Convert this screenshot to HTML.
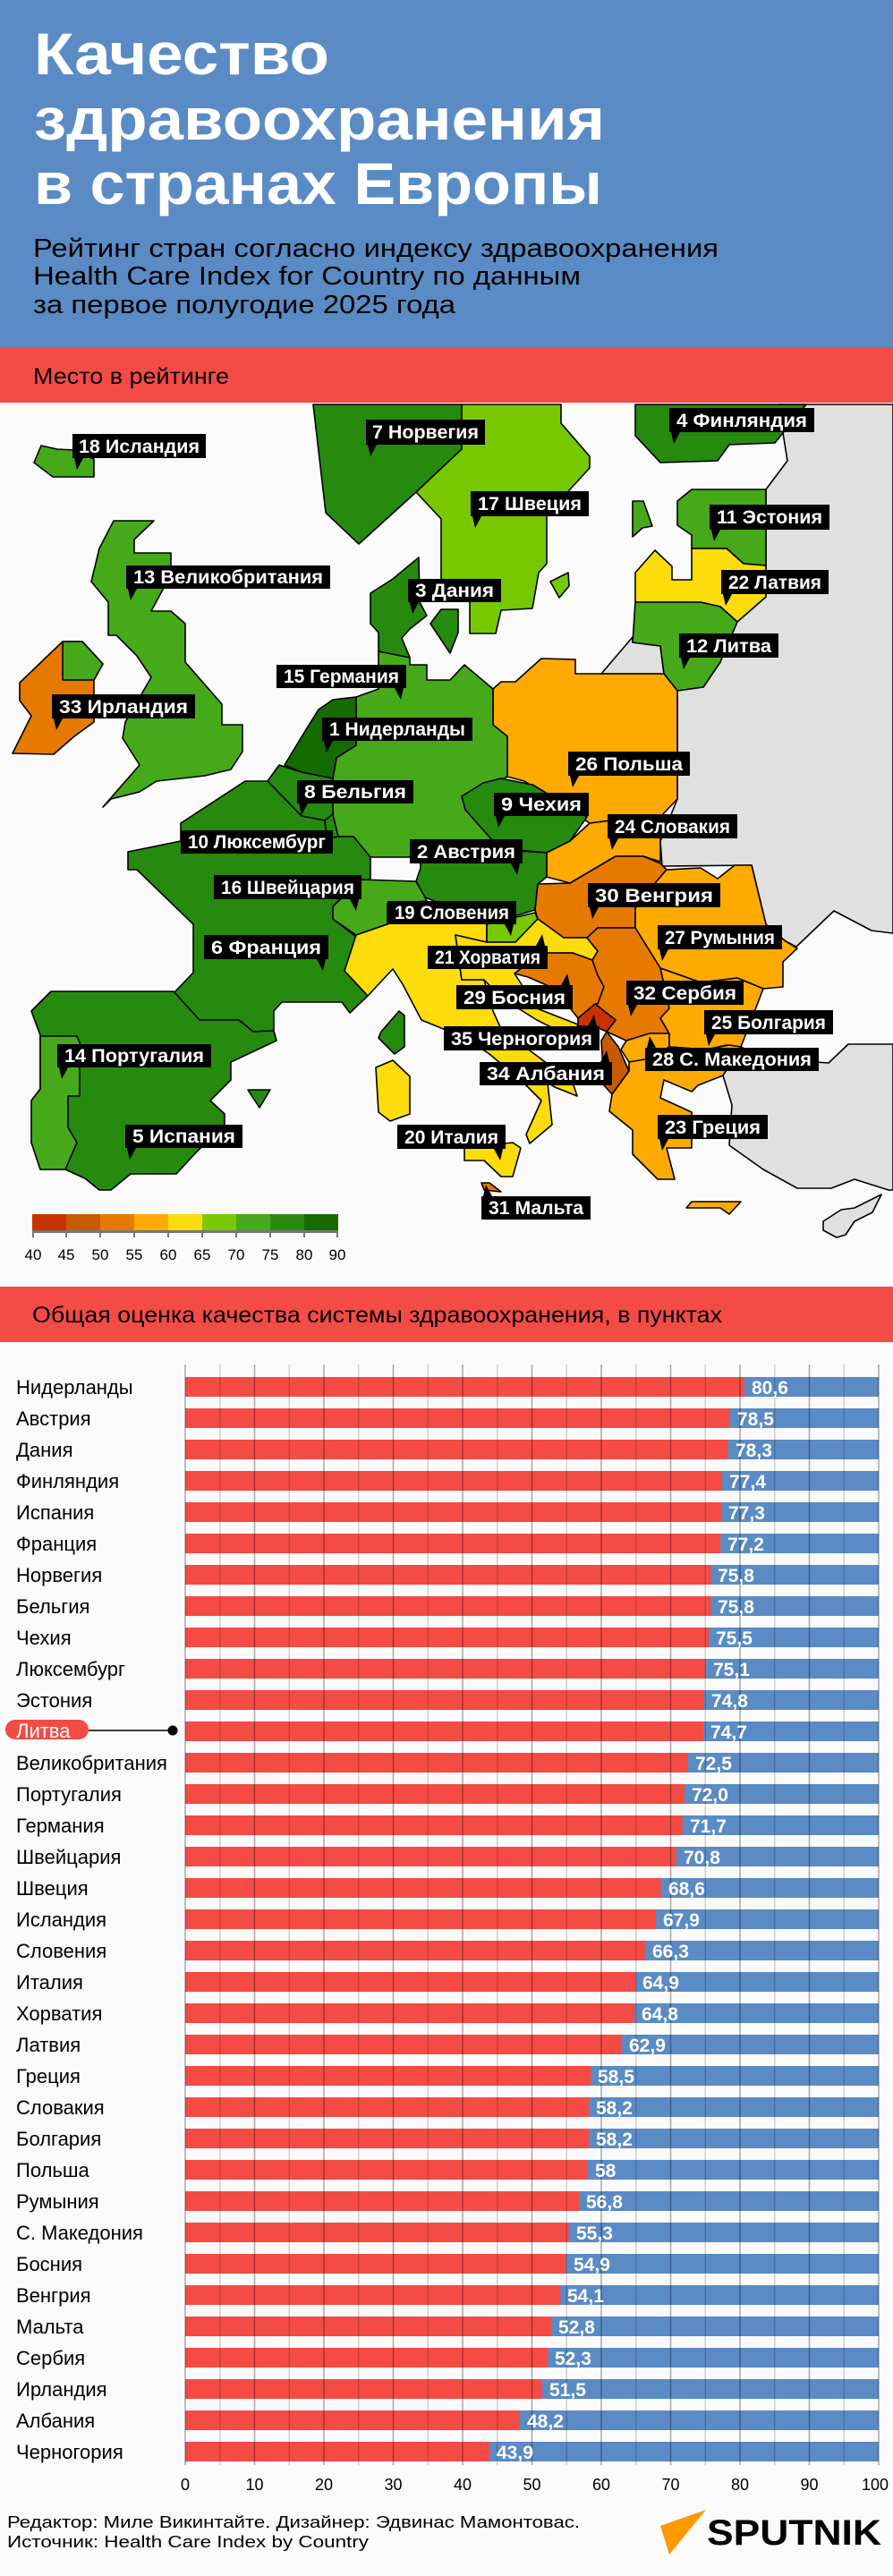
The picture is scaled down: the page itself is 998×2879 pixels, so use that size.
<!DOCTYPE html>
<html><head><meta charset="utf-8"><style>
html,body{margin:0;padding:0;background:#fafafa}
svg{display:block}
text{font-family:"Liberation Sans","DejaVu Sans",sans-serif}
.lb rect,.lb polygon{fill:#000}
.lb text{fill:#fff;font-size:21px;font-weight:bold}
.c{stroke:#000;stroke-width:1.6;stroke-linejoin:round}
.n{font-size:22px;fill:#000}
.v{font-size:21px;fill:#fff;font-weight:bold}
</style></head><body>
<svg width="998" height="2879" viewBox="0 0 998 2879" xmlns="http://www.w3.org/2000/svg">
<rect width="998" height="2879" fill="#fafafa"/>
<rect width="998" height="388" fill="#5a8bc4"/>
<g fill="#fff" font-weight="bold" font-size="66">
<text x="38" y="83" textLength="330" lengthAdjust="spacingAndGlyphs">Качество</text>
<text x="38" y="156" textLength="638" lengthAdjust="spacingAndGlyphs">здравоохранения</text>
<text x="38" y="228" textLength="635" lengthAdjust="spacingAndGlyphs">в странах Европы</text>
</g>
<g fill="#000" font-size="29">
<text x="37" y="287" textLength="766" lengthAdjust="spacingAndGlyphs">Рейтинг стран согласно индексу здравоохранения</text>
<text x="37" y="318" textLength="612" lengthAdjust="spacingAndGlyphs">Health Care Index for Country по данным</text>
<text x="37" y="350" textLength="472" lengthAdjust="spacingAndGlyphs">за первое полугодие 2025 года</text>
</g>
<rect y="388" width="998" height="62" fill="#f44b45"/>
<text x="37" y="429" font-size="25" textLength="219" lengthAdjust="spacingAndGlyphs">Место в рейтинге</text>

<!-- MAP -->
<g class="c">
<polygon fill="#e0e0e0" points="870,452 998,452 998,1043 974,1040 932,1018 890,1058 878,1052 856,1033 840,967 740,968 738,940 757,893 757,770 786,768 805,740 824,695 856,667 856,547 880,515"/>
<polygon fill="#e0e0e0" points="672,753 707,712 707,718 738,722 742,753"/>
<polygon fill="#e0e0e0" points="998,1167 948,1167 926,1188 853,1183 828,1170 808,1202 818,1235 815,1280 853,1307 891,1328 929,1328 955,1318 993,1330 998,1330"/>
<polygon fill="#e0e0e0" points="920,1365 940,1352 955,1350 985,1335 975,1355 955,1365 945,1380 935,1383 920,1375"/>
<!-- Iceland -->
<polygon fill="#46a91a" points="38,517 46,498 64,502 83,503 105,513 105,533 59,533"/>
<!-- Norway -->
<polygon fill="#268a0e" points="350,452 516,452 516,502 465,550 401,608 364,573"/>
<!-- Sweden -->
<polygon fill="#78c800" points="516,452 627,452 627,473 659,510 659,523 637,547 611,577 611,630 602,640 595,680 560,682 554,708 525,708 525,673 493,647 493,580 465,550 516,502"/>
<polygon fill="#78c800" points="615,650 635,640 636,655 625,668"/>
<!-- Finland -->
<polygon fill="#268a0e" points="710,452 901,452 866,495 815,497 802,515 738,517 710,487"/>
<!-- Estonia -->
<polygon fill="#46a91a" points="757,560 773,547 856,547 856,632 831,630 812,613 773,613 773,598 757,587"/>
<polygon fill="#46a91a" points="707,560 719,560 729,588 718,590 707,600"/>
<!-- Latvia -->
<polygon fill="#fcdc0a" points="710,640 732,615 751,633 751,648 773,648 773,613 812,613 831,630 856,632 856,667 824,695 805,678 783,673 710,673"/>
<!-- Lithuania -->
<polygon fill="#46a91a" points="710,673 783,673 805,678 824,695 805,740 786,768 757,772 742,753 738,722 707,718"/>
<!-- Poland -->
<polygon fill="#ffaa00" points="551,770 560,762 576,762 605,736 643,737 643,753 742,753 757,772 757,893 738,913 713,913 659,920 649,913 586,873 567,868 567,823 551,810"/>
<!-- Denmark -->
<polygon fill="#268a0e" points="414,663 439,647 468,623 469,673 477,688 458,703 449,713 458,735 423,728 423,707 414,697"/>
<polygon fill="#268a0e" points="481,697 493,681 512,681 512,707 503,730"/>
<!-- UK -->
<polygon fill="#46a91a" points="127,582 172,582 150,603 150,618 191,618 191,642 169,683 191,683 207,697 207,740 248,787 248,810 271,810 271,840 258,860 229,867 175,873 156,885 124,893 115,902 156,855 137,825 140,807 169,757 153,733 130,710 121,710 121,673 102,650 111,613"/>
<!-- Ireland -->
<polygon fill="#e67a00" points="70,717 92,717 115,742 105,760 105,807 83,823 60,843 14,842 35,800 22,783 22,763"/>
<polygon fill="#46a91a" points="70,717 92,717 115,742 105,760 70,760"/>
<!-- Germany -->
<polygon fill="#46a91a" points="423,728 458,735 458,743 477,743 477,760 503,760 519,743 551,770 551,810 567,823 567,868 535,885 520,905 560,950 530,958 470,958 414,958 395,935 372,935 372,870 376,847 398,833 398,779 423,770"/>
<!-- Czechia -->
<polygon fill="#268a0e" points="516,890 540,875 560,870 595,877 656,913 637,940 611,953 580,950 560,950 520,905"/>
<!-- Slovakia -->
<polygon fill="#ffaa00" points="659,920 713,913 738,913 738,963 719,957 688,957 637,987 611,980 611,953 637,940"/>
<!-- Austria -->
<polygon fill="#268a0e" points="470,958 530,958 560,950 611,953 611,980 601,988 598,1017 544,1033 520,1020 475,1003 465,985 470,970"/>
<!-- Netherlands -->
<polygon fill="#166b00" points="372,782 398,779 398,833 376,847 372,870 337,863 318,855 341,817 356,793"/>
<!-- Belgium -->
<polygon fill="#268a0e" points="312,855 337,863 372,870 372,910 363,917 337,912 299,873"/>
<polygon fill="#268a0e" points="363,917 372,910 378,935 365,937"/>
<!-- France -->
<polygon fill="#268a0e" points="274,873 299,873 337,912 363,917 365,937 378,935 395,935 414,958 414,982 398,987 372,1013 372,1027 398,1047 385,1085 411,1113 391,1132 382,1120 315,1120 306,1130 306,1152 283,1153 267,1140 223,1140 194,1110 216,1087 216,1033 153,972 143,972 143,952 202,940 202,920"/>
<!-- Switzerland -->
<polygon fill="#46a91a" points="404,983 465,985 475,1003 477,1007 433,1010 433,1033 398,1045 372,1027 372,1013"/>
<!-- Italy -->
<polygon fill="#fcdc0a" points="398,1045 433,1033 477,1010 520,1020 544,1033 544,1053 509,1045 516,1095 541,1095 551,1130 560,1150 600,1180 640,1210 645,1225 620,1215 612,1210 617,1257 592,1278 588,1268 605,1230 585,1210 547,1178 520,1160 471,1140 450,1100 439,1083 411,1113 385,1085"/>
<polygon fill="#fcdc0a" points="519,1283 573,1277 582,1283 573,1315 560,1315 541,1297 519,1297"/>
<polygon fill="#fcdc0a" points="420,1193 439,1185 458,1203 458,1245 436,1253 423,1243"/>
<polygon fill="#268a0e" points="426,1153 446,1130 452,1135 452,1170 441,1178 423,1160"/>
<polygon fill="#268a0e" points="277,1218 302,1218 290,1238"/>
<!-- Slovenia -->
<polygon fill="#78c800" points="544,1033 598,1020 601,1027 576,1053 544,1053"/>
<!-- Hungary -->
<polygon fill="#e67a00" points="601,988 637,987 688,957 719,957 738,965 745,972 732,987 710,1015 710,1037 668,1037 656,1048 630,1048 601,1027 598,1017"/>
<!-- Romania -->
<polygon fill="#ffaa00" points="732,987 745,972 783,970 802,982 821,967 840,967 856,1033 878,1052 891,1060 875,1075 875,1103 853,1105 824,1093 783,1098 738,1082 710,1037 710,1015"/>
<!-- Croatia -->
<polygon fill="#fcdc0a" points="544,1053 576,1053 601,1027 630,1048 656,1048 668,1063 662,1073 640,1065 605,1065 575,1088 600,1127 646,1145 640,1160 600,1140 560,1115 541,1095 516,1095 509,1045"/>
<!-- Bosnia -->
<polygon fill="#e67a00" points="605,1065 640,1065 662,1073 668,1090 675,1103 668,1122 665,1122 646,1138 620,1105 590,1092 575,1088"/>
<!-- Serbia -->
<polygon fill="#e67a00" points="656,1048 668,1037 710,1037 738,1082 748,1127 738,1138 748,1155 726,1155 700,1163 678,1153 688,1140 665,1122 668,1122 675,1103 668,1090 662,1073 668,1063"/>
<!-- Montenegro -->
<polygon fill="#c83200" points="646,1138 665,1122 688,1140 678,1153 665,1147 646,1147"/>
<!-- Albania -->
<polygon fill="#c85a00" points="678,1153 691,1170 703,1197 684,1223 675,1213 672,1163"/>
<!-- N Macedonia -->
<polygon fill="#ffaa00" points="700,1163 726,1155 748,1155 748,1170 726,1183 703,1187 694,1173"/>
<!-- Bulgaria -->
<polygon fill="#ffaa00" points="738,1138 748,1127 738,1082 783,1098 824,1093 853,1105 828,1170 812,1168 789,1173 748,1170 748,1155"/>
<!-- Greece -->
<polygon fill="#ffaa00" points="703,1197 703,1187 726,1183 748,1170 789,1173 815,1168 828,1170 808,1202 780,1213 773,1220 742,1207 738,1227 773,1243 773,1283 745,1283 754,1318 735,1318 707,1290 707,1263 681,1242 684,1223"/>
<polygon fill="#ffaa00" points="767,1350 773,1343 828,1343 815,1357 805,1350"/>
<!-- Malta -->
<polygon fill="#e67a00" points="538,1322 547,1322 560,1332 541,1330"/>
<!-- Iberia -->
<polygon fill="#268a0e" points="35,1130 57,1108 194,1108 223,1140 267,1140 283,1153 306,1152 309,1163 258,1187 258,1207 235,1230 251,1245 251,1257 220,1287 197,1312 146,1312 124,1330 111,1330 95,1317 73,1307 45,1307 45,1157"/>
<polygon fill="#46a91a" points="45,1158 86,1158 89,1165 89,1225 76,1225 76,1260 86,1277 73,1307 45,1307 35,1277 35,1230 45,1217"/>
</g>

<!-- labels -->
<g class="lb">
<rect x="81" y="485" width="149" height="27"/><polygon points="83,512 93,512 86,525"/><text x="88" y="506" textLength="135" lengthAdjust="spacingAndGlyphs">18 Исландия</text>
<rect x="409" y="469" width="133" height="28"/><polygon points="411,497 421,497 414,510"/><text x="416" y="490" textLength="119" lengthAdjust="spacingAndGlyphs">7 Норвегия</text>
<rect x="748" y="456" width="162" height="27"/><polygon points="750,483 760,483 753,496"/><text x="756" y="477" textLength="146" lengthAdjust="spacingAndGlyphs">4 Финляндия</text>
<rect x="526" y="549" width="132" height="28"/><polygon points="528,577 538,577 531,590"/><text x="534" y="570" textLength="116" lengthAdjust="spacingAndGlyphs">17 Швеция</text>
<rect x="793" y="564" width="134" height="28"/><polygon points="795,592 805,592 798,605"/><text x="801" y="585" textLength="118" lengthAdjust="spacingAndGlyphs">11 Эстония</text>
<rect x="141" y="632" width="228" height="26"/><polygon points="143,658 153,658 146,671"/><text x="149" y="652" textLength="212" lengthAdjust="spacingAndGlyphs">13 Великобритания</text>
<rect x="456" y="647" width="104" height="26"/><polygon points="458,673 468,673 461,686"/><text x="464" y="667" textLength="88" lengthAdjust="spacingAndGlyphs">3 Дания</text>
<rect x="806" y="637" width="120" height="27"/><polygon points="808,664 818,664 811,677"/><text x="814" y="658" textLength="104" lengthAdjust="spacingAndGlyphs">22 Латвия</text>
<rect x="759" y="708" width="111" height="27"/><polygon points="761,735 771,735 764,748"/><text x="767" y="729" textLength="95" lengthAdjust="spacingAndGlyphs">12 Литва</text>
<rect x="309" y="743" width="145" height="26"/><polygon points="441,769 451,769 448,782"/><text x="317" y="763" textLength="129" lengthAdjust="spacingAndGlyphs">15 Германия</text>
<rect x="58" y="776" width="160" height="27"/><polygon points="60,803 70,803 63,816"/><text x="66" y="797" textLength="144" lengthAdjust="spacingAndGlyphs">33 Ирландия</text>
<rect x="360" y="802" width="168" height="26"/><polygon points="362,828 372,828 365,841"/><text x="368" y="822" textLength="152" lengthAdjust="spacingAndGlyphs">1 Нидерланды</text>
<rect x="635" y="840" width="136" height="27"/><polygon points="637,867 647,867 640,880"/><text x="643" y="861" textLength="120" lengthAdjust="spacingAndGlyphs">26 Польша</text>
<rect x="332" y="872" width="130" height="26"/><polygon points="334,898 344,898 337,911"/><text x="340" y="892" textLength="114" lengthAdjust="spacingAndGlyphs">8 Бельгия</text>
<rect x="552" y="886" width="106" height="26"/><polygon points="554,912 564,912 557,925"/><text x="560" y="906" textLength="90" lengthAdjust="spacingAndGlyphs">9 Чехия</text>
<rect x="679" y="910" width="145" height="27"/><polygon points="681,937 691,937 684,950"/><text x="687" y="931" textLength="129" lengthAdjust="spacingAndGlyphs">24 Словакия</text>
<rect x="202" y="928" width="170" height="26"/><text x="210" y="948" textLength="154" lengthAdjust="spacingAndGlyphs">10 Люксембург</text>
<rect x="458" y="938" width="126" height="27"/><polygon points="571,965 581,965 578,978"/><text x="466" y="959" textLength="110" lengthAdjust="spacingAndGlyphs">2 Австрия</text>
<rect x="239" y="978" width="165" height="27"/><polygon points="391,1005 401,1005 398,1018"/><text x="247" y="999" textLength="149" lengthAdjust="spacingAndGlyphs">16 Швейцария</text>
<rect x="657" y="987" width="148" height="27"/><polygon points="659,1014 669,1014 662,1027"/><text x="665" y="1008" textLength="132" lengthAdjust="spacingAndGlyphs">30 Венгрия</text>
<rect x="433" y="1007" width="144" height="26"/><polygon points="564,1033 574,1033 571,1046"/><text x="441" y="1027" textLength="128" lengthAdjust="spacingAndGlyphs">19 Словения</text>
<rect x="735" y="1034" width="139" height="27"/><polygon points="737,1061 747,1061 740,1074"/><text x="743" y="1055" textLength="123" lengthAdjust="spacingAndGlyphs">27 Румыния</text>
<rect x="228" y="1045" width="139" height="27"/><polygon points="354,1072 364,1072 361,1085"/><text x="236" y="1066" textLength="123" lengthAdjust="spacingAndGlyphs">6 Франция</text>
<rect x="478" y="1057" width="134" height="26"/><polygon points="599,1057 609,1057 606,1044"/><text x="486" y="1077" textLength="118" lengthAdjust="spacingAndGlyphs">21 Хорватия</text>
<rect x="510" y="1101" width="130" height="27"/><polygon points="627,1101 637,1101 634,1088"/><text x="518" y="1122" textLength="114" lengthAdjust="spacingAndGlyphs">29 Босния</text>
<rect x="700" y="1096" width="131" height="27"/><polygon points="702,1123 712,1123 705,1136"/><text x="708" y="1117" textLength="115" lengthAdjust="spacingAndGlyphs">32 Сербия</text>
<rect x="787" y="1129" width="144" height="27"/><polygon points="789,1156 799,1156 792,1169"/><text x="795" y="1150" textLength="128" lengthAdjust="spacingAndGlyphs">25 Болгария</text>
<rect x="496" y="1147" width="174" height="27"/><polygon points="657,1147 667,1147 664,1134"/><text x="504" y="1168" textLength="158" lengthAdjust="spacingAndGlyphs">35 Черногория</text>
<rect x="64" y="1167" width="172" height="26"/><polygon points="66,1193 76,1193 69,1206"/><text x="72" y="1187" textLength="156" lengthAdjust="spacingAndGlyphs">14 Португалия</text>
<rect x="721" y="1171" width="194" height="26"/><polygon points="723,1171 733,1171 726,1158"/><text x="729" y="1191" textLength="178" lengthAdjust="spacingAndGlyphs">28 С. Македония</text>
<rect x="536" y="1187" width="148" height="26"/><polygon points="671,1187 681,1187 678,1174"/><text x="544" y="1207" textLength="132" lengthAdjust="spacingAndGlyphs">34 Албания</text>
<rect x="735" y="1246" width="123" height="27"/><polygon points="737,1273 747,1273 740,1286"/><text x="743" y="1267" textLength="107" lengthAdjust="spacingAndGlyphs">23 Греция</text>
<rect x="140" y="1257" width="131" height="26"/><polygon points="142,1283 152,1283 145,1296"/><text x="148" y="1277" textLength="115" lengthAdjust="spacingAndGlyphs">5 Испания</text>
<rect x="444" y="1257" width="121" height="27"/><polygon points="552,1284 562,1284 559,1297"/><text x="452" y="1278" textLength="105" lengthAdjust="spacingAndGlyphs">20 Италия</text>
<rect x="538" y="1337" width="122" height="26"/><polygon points="540,1337 550,1337 543,1324"/><text x="546" y="1357" textLength="106" lengthAdjust="spacingAndGlyphs">31 Мальта</text>
</g>

<!-- legend -->
<rect x="36" y="1357" width="38" height="18" fill="#c83200"/>
<rect x="74" y="1357" width="38" height="18" fill="#c85a00"/>
<rect x="112" y="1357" width="38" height="18" fill="#e67a00"/>
<rect x="150" y="1357" width="38" height="18" fill="#ffaa00"/>
<rect x="188" y="1357" width="38" height="18" fill="#fcdc0a"/>
<rect x="226" y="1357" width="38" height="18" fill="#7ac800"/>
<rect x="264" y="1357" width="38" height="18" fill="#46a81a"/>
<rect x="302" y="1357" width="38" height="18" fill="#2a8a10"/>
<rect x="340" y="1357" width="38" height="18" fill="#166b00"/>
<rect x="36" y="1375" width="342" height="3" fill="#777"/>
<g stroke="#777" stroke-width="2"><path d="M37 1375v8M74 1375v8M112 1375v8M150 1375v8M188 1375v8M226 1375v8M264 1375v8M302 1375v8M340 1375v8M377 1375v8"/></g>
<g font-size="17" fill="#000" text-anchor="middle">
<text x="37" y="1408">40</text><text x="74" y="1408">45</text><text x="112" y="1408">50</text><text x="150" y="1408">55</text><text x="188" y="1408">60</text><text x="226" y="1408">65</text><text x="264" y="1408">70</text><text x="302" y="1408">75</text><text x="340" y="1408">80</text><text x="377" y="1408">90</text>
</g>

<rect y="1438" width="998" height="62" fill="#f44b45"/>
<text x="36" y="1478" font-size="25" textLength="771" lengthAdjust="spacingAndGlyphs">Общая оценка качества системы здравоохранения, в пунктах</text>

<!-- bars -->
<g>
<rect x="207" y="1539" width="775" height="22" fill="#5a8bc4"/><rect x="207" y="1539" width="624.7" height="22" fill="#f44b45"/>
<rect x="207" y="1574" width="775" height="22" fill="#5a8bc4"/><rect x="207" y="1574" width="608.4" height="22" fill="#f44b45"/>
<rect x="207" y="1609" width="775" height="22" fill="#5a8bc4"/><rect x="207" y="1609" width="606.8" height="22" fill="#f44b45"/>
<rect x="207" y="1644" width="775" height="22" fill="#5a8bc4"/><rect x="207" y="1644" width="599.9" height="22" fill="#f44b45"/>
<rect x="207" y="1679" width="775" height="22" fill="#5a8bc4"/><rect x="207" y="1679" width="599.1" height="22" fill="#f44b45"/>
<rect x="207" y="1714" width="775" height="22" fill="#5a8bc4"/><rect x="207" y="1714" width="598.3" height="22" fill="#f44b45"/>
<rect x="207" y="1749" width="775" height="22" fill="#5a8bc4"/><rect x="207" y="1749" width="587.5" height="22" fill="#f44b45"/>
<rect x="207" y="1784" width="775" height="22" fill="#5a8bc4"/><rect x="207" y="1784" width="587.5" height="22" fill="#f44b45"/>
<rect x="207" y="1819" width="775" height="22" fill="#5a8bc4"/><rect x="207" y="1819" width="585.1" height="22" fill="#f44b45"/>
<rect x="207" y="1854" width="775" height="22" fill="#5a8bc4"/><rect x="207" y="1854" width="582.0" height="22" fill="#f44b45"/>
<rect x="207" y="1889" width="775" height="22" fill="#5a8bc4"/><rect x="207" y="1889" width="579.7" height="22" fill="#f44b45"/>
<rect x="207" y="1924" width="775" height="22" fill="#5a8bc4"/><rect x="207" y="1924" width="578.9" height="22" fill="#f44b45"/>
<rect x="207" y="1959" width="775" height="22" fill="#5a8bc4"/><rect x="207" y="1959" width="561.9" height="22" fill="#f44b45"/>
<rect x="207" y="1994" width="775" height="22" fill="#5a8bc4"/><rect x="207" y="1994" width="558" height="22" fill="#f44b45"/>
<rect x="207" y="2029" width="775" height="22" fill="#5a8bc4"/><rect x="207" y="2029" width="555.7" height="22" fill="#f44b45"/>
<rect x="207" y="2064" width="775" height="22" fill="#5a8bc4"/><rect x="207" y="2064" width="548.7" height="22" fill="#f44b45"/>
<rect x="207" y="2099" width="775" height="22" fill="#5a8bc4"/><rect x="207" y="2099" width="531.7" height="22" fill="#f44b45"/>
<rect x="207" y="2134" width="775" height="22" fill="#5a8bc4"/><rect x="207" y="2134" width="526.2" height="22" fill="#f44b45"/>
<rect x="207" y="2169" width="775" height="22" fill="#5a8bc4"/><rect x="207" y="2169" width="513.8" height="22" fill="#f44b45"/>
<rect x="207" y="2204" width="775" height="22" fill="#5a8bc4"/><rect x="207" y="2204" width="503.0" height="22" fill="#f44b45"/>
<rect x="207" y="2239" width="775" height="22" fill="#5a8bc4"/><rect x="207" y="2239" width="502.2" height="22" fill="#f44b45"/>
<rect x="207" y="2274" width="775" height="22" fill="#5a8bc4"/><rect x="207" y="2274" width="487.5" height="22" fill="#f44b45"/>
<rect x="207" y="2309" width="775" height="22" fill="#5a8bc4"/><rect x="207" y="2309" width="453.4" height="22" fill="#f44b45"/>
<rect x="207" y="2344" width="775" height="22" fill="#5a8bc4"/><rect x="207" y="2344" width="451.1" height="22" fill="#f44b45"/>
<rect x="207" y="2379" width="775" height="22" fill="#5a8bc4"/><rect x="207" y="2379" width="451.1" height="22" fill="#f44b45"/>
<rect x="207" y="2414" width="775" height="22" fill="#5a8bc4"/><rect x="207" y="2414" width="449.5" height="22" fill="#f44b45"/>
<rect x="207" y="2449" width="775" height="22" fill="#5a8bc4"/><rect x="207" y="2449" width="440.2" height="22" fill="#f44b45"/>
<rect x="207" y="2484" width="775" height="22" fill="#5a8bc4"/><rect x="207" y="2484" width="428.6" height="22" fill="#f44b45"/>
<rect x="207" y="2519" width="775" height="22" fill="#5a8bc4"/><rect x="207" y="2519" width="425.5" height="22" fill="#f44b45"/>
<rect x="207" y="2554" width="775" height="22" fill="#5a8bc4"/><rect x="207" y="2554" width="419.3" height="22" fill="#f44b45"/>
<rect x="207" y="2589" width="775" height="22" fill="#5a8bc4"/><rect x="207" y="2589" width="409.2" height="22" fill="#f44b45"/>
<rect x="207" y="2624" width="775" height="22" fill="#5a8bc4"/><rect x="207" y="2624" width="405.3" height="22" fill="#f44b45"/>
<rect x="207" y="2659" width="775" height="22" fill="#5a8bc4"/><rect x="207" y="2659" width="399.1" height="22" fill="#f44b45"/>
<rect x="207" y="2694" width="775" height="22" fill="#5a8bc4"/><rect x="207" y="2694" width="373.6" height="22" fill="#f44b45"/>
<rect x="207" y="2729" width="775" height="22" fill="#5a8bc4"/><rect x="207" y="2729" width="340.2" height="22" fill="#f44b45"/>
</g>
<!-- grid -->
<g stroke-width="1.5">
<g stroke="rgba(0,0,0,0.33)"><path d="M207 1525V2755M284.5 1525V2755M362 1525V2755M439.5 1525V2755M517 1525V2755M594.5 1525V2755M672 1525V2755M749.5 1525V2755M827 1525V2755M904.5 1525V2755M982 1525V2755"/></g>
<g stroke="rgba(0,0,0,0.17)"><path d="M245.75 1525V2755M323.25 1525V2755M400.75 1525V2755M478.25 1525V2755M555.75 1525V2755M633.25 1525V2755M710.75 1525V2755M788.25 1525V2755M865.75 1525V2755M943.25 1525V2755"/></g>
</g>
<!-- names -->
<g class="n">
<text x="18" y="1558">Нидерланды</text>
<text x="18" y="1593">Австрия</text>
<text x="18" y="1628">Дания</text>
<text x="18" y="1663">Финляндия</text>
<text x="18" y="1698">Испания</text>
<text x="18" y="1733">Франция</text>
<text x="18" y="1768">Норвегия</text>
<text x="18" y="1803">Бельгия</text>
<text x="18" y="1838">Чехия</text>
<text x="18" y="1873">Люксембург</text>
<text x="18" y="1908">Эстония</text>
<text x="18" y="1978">Великобритания</text>
<text x="18" y="2013">Португалия</text>
<text x="18" y="2048">Германия</text>
<text x="18" y="2083">Швейцария</text>
<text x="18" y="2118">Швеция</text>
<text x="18" y="2153">Исландия</text>
<text x="18" y="2188">Словения</text>
<text x="18" y="2223">Италия</text>
<text x="18" y="2258">Хорватия</text>
<text x="18" y="2293">Латвия</text>
<text x="18" y="2328">Греция</text>
<text x="18" y="2363">Словакия</text>
<text x="18" y="2398">Болгария</text>
<text x="18" y="2433">Польша</text>
<text x="18" y="2468">Румыния</text>
<text x="18" y="2503">С. Македония</text>
<text x="18" y="2538">Босния</text>
<text x="18" y="2573">Венгрия</text>
<text x="18" y="2608">Мальта</text>
<text x="18" y="2643">Сербия</text>
<text x="18" y="2678">Ирландия</text>
<text x="18" y="2713">Албания</text>
<text x="18" y="2748">Черногория</text>
</g>
<rect x="6" y="1922" width="93" height="22" rx="11" fill="#f44b45"/>
<text x="18" y="1942" font-size="22" fill="#fff">Литва</text>
<path d="M99 1934H193" stroke="#000" stroke-width="1.5"/>
<circle cx="193" cy="1934" r="5.5" fill="#000"/>
<!-- values -->
<g class="v">
<text x="840" y="1558">80,6</text>
<text x="824" y="1593">78,5</text>
<text x="822" y="1628">78,3</text>
<text x="815" y="1663">77,4</text>
<text x="814" y="1698">77,3</text>
<text x="813" y="1733">77,2</text>
<text x="802" y="1768">75,8</text>
<text x="802" y="1803">75,8</text>
<text x="800" y="1838">75,5</text>
<text x="797" y="1873">75,1</text>
<text x="795" y="1908">74,8</text>
<text x="794" y="1943">74,7</text>
<text x="777" y="1978">72,5</text>
<text x="773" y="2013">72,0</text>
<text x="771" y="2048">71,7</text>
<text x="764" y="2083">70,8</text>
<text x="747" y="2118">68,6</text>
<text x="741" y="2153">67,9</text>
<text x="729" y="2188">66,3</text>
<text x="718" y="2223">64,9</text>
<text x="717" y="2258">64,8</text>
<text x="703" y="2293">62,9</text>
<text x="668" y="2328">58,5</text>
<text x="666" y="2363">58,2</text>
<text x="666" y="2398">58,2</text>
<text x="665" y="2433">58</text>
<text x="655" y="2468">56,8</text>
<text x="644" y="2503">55,3</text>
<text x="641" y="2538">54,9</text>
<text x="634" y="2573">54,1</text>
<text x="624" y="2608">52,8</text>
<text x="620" y="2643">52,3</text>
<text x="614" y="2678">51,5</text>
<text x="589" y="2713">48,2</text>
<text x="555" y="2748">43,9</text>
</g>
<g font-size="18" fill="#000" text-anchor="middle">
<text x="207" y="2783">0</text><text x="284.5" y="2783">10</text><text x="362" y="2783">20</text><text x="439.5" y="2783">30</text><text x="517" y="2783">40</text><text x="594.5" y="2783">50</text><text x="672" y="2783">60</text><text x="749.5" y="2783">70</text><text x="827" y="2783">80</text><text x="904.5" y="2783">90</text><text x="978" y="2783">100</text>
</g>
<!-- footer -->
<g font-size="18" fill="#000">
<text x="8" y="2825" textLength="640" lengthAdjust="spacingAndGlyphs">Редактор: Миле Викинтайте.  Дизайнер: Эдвинас Мамонтовас.</text>
<text x="8" y="2847" textLength="404" lengthAdjust="spacingAndGlyphs">Источник: Health Care Index by Country</text>
</g>
<polygon points="738,2823 789,2805 748,2855" fill="#ff9900"/>
<text x="790" y="2844" font-size="40" font-weight="bold" fill="#000" textLength="195" lengthAdjust="spacingAndGlyphs">SPUTNIK</text>
</svg>
</body></html>
